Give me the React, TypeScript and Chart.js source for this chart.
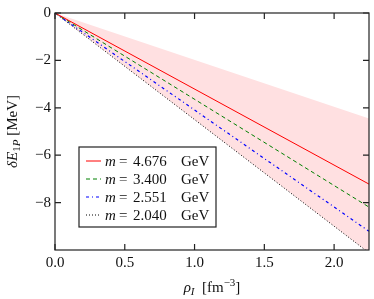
import React, { useEffect, useRef } from "react";
import { Chart, registerables } from "chart.js";

Chart.register(...registerables);

// ---- data ----
const rhoPoints = [0, 2.25];
const massLabels = ["4.676", "3.400", "2.551", "2.040"];
const lineRed = [0, -7.22];
const lineGreen = [0, -8.19];
const lineBlue = [0, -9.21];
const lineBlack = [0, -10.12];
const bandUpper = [0, -4.45];
const xTicks = [0, 0.5, 1.0, 1.5, 2.0];
const yTicks = [0, -2, -4, -6, -8];

const FONT = "'Liberation Serif', 'DejaVu Serif', serif";

type Seg = { t: string; it?: boolean; s?: "sub" | "sup" };

function drawRich(ctx: CanvasRenderingContext2D, segs: Seg[], size: number, cx: number, cy: number) {
  const fontFor = (sg: Seg) =>
    `${sg.it ? "italic " : ""}${sg.s ? Math.round(size * 0.7) : size}px ${FONT}`;
  let total = 0;
  const widths = segs.map((sg) => {
    ctx.font = fontFor(sg);
    const w = ctx.measureText(sg.t).width;
    total += w;
    return w;
  });
  let x = cx - total / 2;
  ctx.textBaseline = "alphabetic";
  ctx.textAlign = "left";
  const base = cy + size * 0.33;
  segs.forEach((sg, i) => {
    ctx.font = fontFor(sg);
    let y = base;
    if (sg.s === "sub") y += size * 0.22;
    if (sg.s === "sup") y -= size * 0.38;
    ctx.fillText(sg.t, x, y);
    x += widths[i];
  });
}

const framePlugin = {
  id: "frame",
  afterDraw(chart: any) {
    const { ctx, chartArea: a, scales } = chart;
    const xs = scales.x;
    const ys = scales.y;
    ctx.save();
    ctx.strokeStyle = "#222";
    ctx.lineWidth = 1.2;
    ctx.strokeRect(a.left, a.top, a.right - a.left, a.bottom - a.top);
    ctx.beginPath();
    const L = 6;
    xs.ticks.forEach((t: any) => {
      const px = xs.getPixelForValue(t.value);
      ctx.moveTo(px, a.bottom);
      ctx.lineTo(px, a.bottom - L);
      ctx.moveTo(px, a.top);
      ctx.lineTo(px, a.top + L);
    });
    ys.ticks.forEach((t: any) => {
      const py = ys.getPixelForValue(t.value);
      ctx.moveTo(a.left, py);
      ctx.lineTo(a.left + L, py);
      ctx.moveTo(a.right, py);
      ctx.lineTo(a.right - L, py);
    });
    ctx.stroke();

    // axis titles
    ctx.fillStyle = "#111";
    drawRich(
      ctx,
      [
        { t: "ρ", it: true },
        { t: "I", it: true, s: "sub" },
        { t: "  [fm" },
        { t: "−3", s: "sup" },
        { t: "]" },
      ],
      15,
      (a.left + a.right) / 2,
      287
    );
    ctx.save();
    ctx.translate(12, (a.top + a.bottom) / 2);
    ctx.rotate(-Math.PI / 2);
    drawRich(
      ctx,
      [
        { t: "δE", it: true },
        { t: "1", s: "sub" },
        { t: "P", it: true, s: "sub" },
        { t: " [MeV]" },
      ],
      15,
      0,
      0
    );
    ctx.restore();

    // legend
    const bx = 79, by = 147, bw = 137, bh = 80;
    ctx.fillStyle = "#fff";
    ctx.fillRect(bx, by, bw, bh);
    ctx.strokeStyle = "#222";
    ctx.lineWidth = 1.2;
    ctx.strokeRect(bx, by, bw, bh);
    const items = chart.data.datasets.filter((d: any) => d.mass);
    items.forEach((d: any, i: number) => {
      const y = by + 14 + i * 18;
      ctx.save();
      ctx.strokeStyle = d.borderColor;
      ctx.lineWidth = d.borderWidth;
      ctx.setLineDash(d.borderDash || []);
      ctx.beginPath();
      ctx.moveTo(bx + 7, y);
      ctx.lineTo(bx + 22, y);
      ctx.stroke();
      ctx.restore();
      ctx.fillStyle = "#111";
      ctx.textBaseline = "middle";
      ctx.textAlign = "left";
      const tx = bx + 26;
      ctx.font = `italic 15px ${FONT}`;
      ctx.fillText("m", tx, y + 1);
      ctx.font = `15px ${FONT}`;
      ctx.fillText("=", tx + 14, y + 1);
      ctx.fillText(d.mass, tx + 28, y + 1);
      ctx.fillText("GeV", tx + 76, y + 1);
    });
    ctx.restore();
  },
};

function pts(ys: number[]) {
  return rhoPoints.map((x, i) => ({ x, y: ys[i] }));
}

export default function App() {
  const ref = useRef<HTMLCanvasElement>(null);
  useEffect(() => {
    if (!ref.current) return;
    const chart = new Chart(ref.current, {
      type: "line",
      data: {
        datasets: [
          {
            label: "band",
            data: pts(bandUpper),
            borderWidth: 0,
            borderColor: "rgba(0,0,0,0)",
            backgroundColor: "#ffe0e1",
            pointRadius: 0,
            fill: 4,
          } as any,
          {
            label: "m = " + massLabels[0] + " GeV",
            mass: massLabels[0],
            data: pts(lineRed),
            borderColor: "#ff0000",
            borderWidth: 1,
            pointRadius: 0,
            fill: false,
          },
          {
            label: "m = " + massLabels[1] + " GeV",
            mass: massLabels[1],
            data: pts(lineGreen),
            borderColor: "#008000",
            borderWidth: 1,
            borderDash: [4, 3],
            pointRadius: 0,
            fill: false,
          },
          {
            label: "m = " + massLabels[2] + " GeV",
            mass: massLabels[2],
            data: pts(lineBlue),
            borderColor: "#0000ff",
            borderWidth: 1.2,
            borderDash: [3, 3, 1, 3],
            pointRadius: 0,
            fill: false,
          },
          {
            label: "m = " + massLabels[3] + " GeV",
            mass: massLabels[3],
            data: pts(lineBlack),
            borderColor: "#000000",
            borderWidth: 1,
            borderDash: [1, 2],
            pointRadius: 0,
            fill: false,
          },
        ],
      },
      options: {
        animation: false,
        responsive: false,
        maintainAspectRatio: false,
        layout: { padding: { left: 0, top: 10, right: 5, bottom: 0 } },
        plugins: {
          legend: { display: false },
          tooltip: { enabled: false },
          filler: { drawTime: "beforeDatasetsDraw" },
        },
        scales: {
          x: {
            type: "linear",
            min: 0,
            max: 2.25,
            afterBuildTicks: (s: any) => {
              s.ticks = xTicks.map((v) => ({ value: v }));
            },
            afterFit: (s: any) => {
              s.height = 49;
            },
            grid: { display: false, drawTicks: false },
            border: { display: false },
            ticks: {
              padding: 4,
              color: "#111",
              font: { family: FONT, size: 15 },
              callback: (v: any) => Number(v).toFixed(1),
            },
          },
          y: {
            type: "linear",
            min: -10,
            max: 0,
            afterBuildTicks: (s: any) => {
              s.ticks = yTicks.map((v) => ({ value: v }));
            },
            afterFit: (s: any) => {
              s.width = 55;
            },
            grid: { display: false, drawTicks: false },
            border: { display: false },
            ticks: {
              padding: 4,
              color: "#111",
              font: { family: FONT, size: 15 },
              callback: (v: any) => (Number(v) < 0 ? "−" + Math.abs(Number(v)) : String(v)),
            },
          },
        },
      } as any,
      plugins: [framePlugin],
    });
    return () => chart.destroy();
  }, []);
  return (
    <div style={{ position: "fixed", left: 0, top: 0, width: 374, height: 299, background: "#fff" }}>
      <canvas ref={ref} width={374} height={299} style={{ width: 374, height: 299 }} />
    </div>
  );
}
